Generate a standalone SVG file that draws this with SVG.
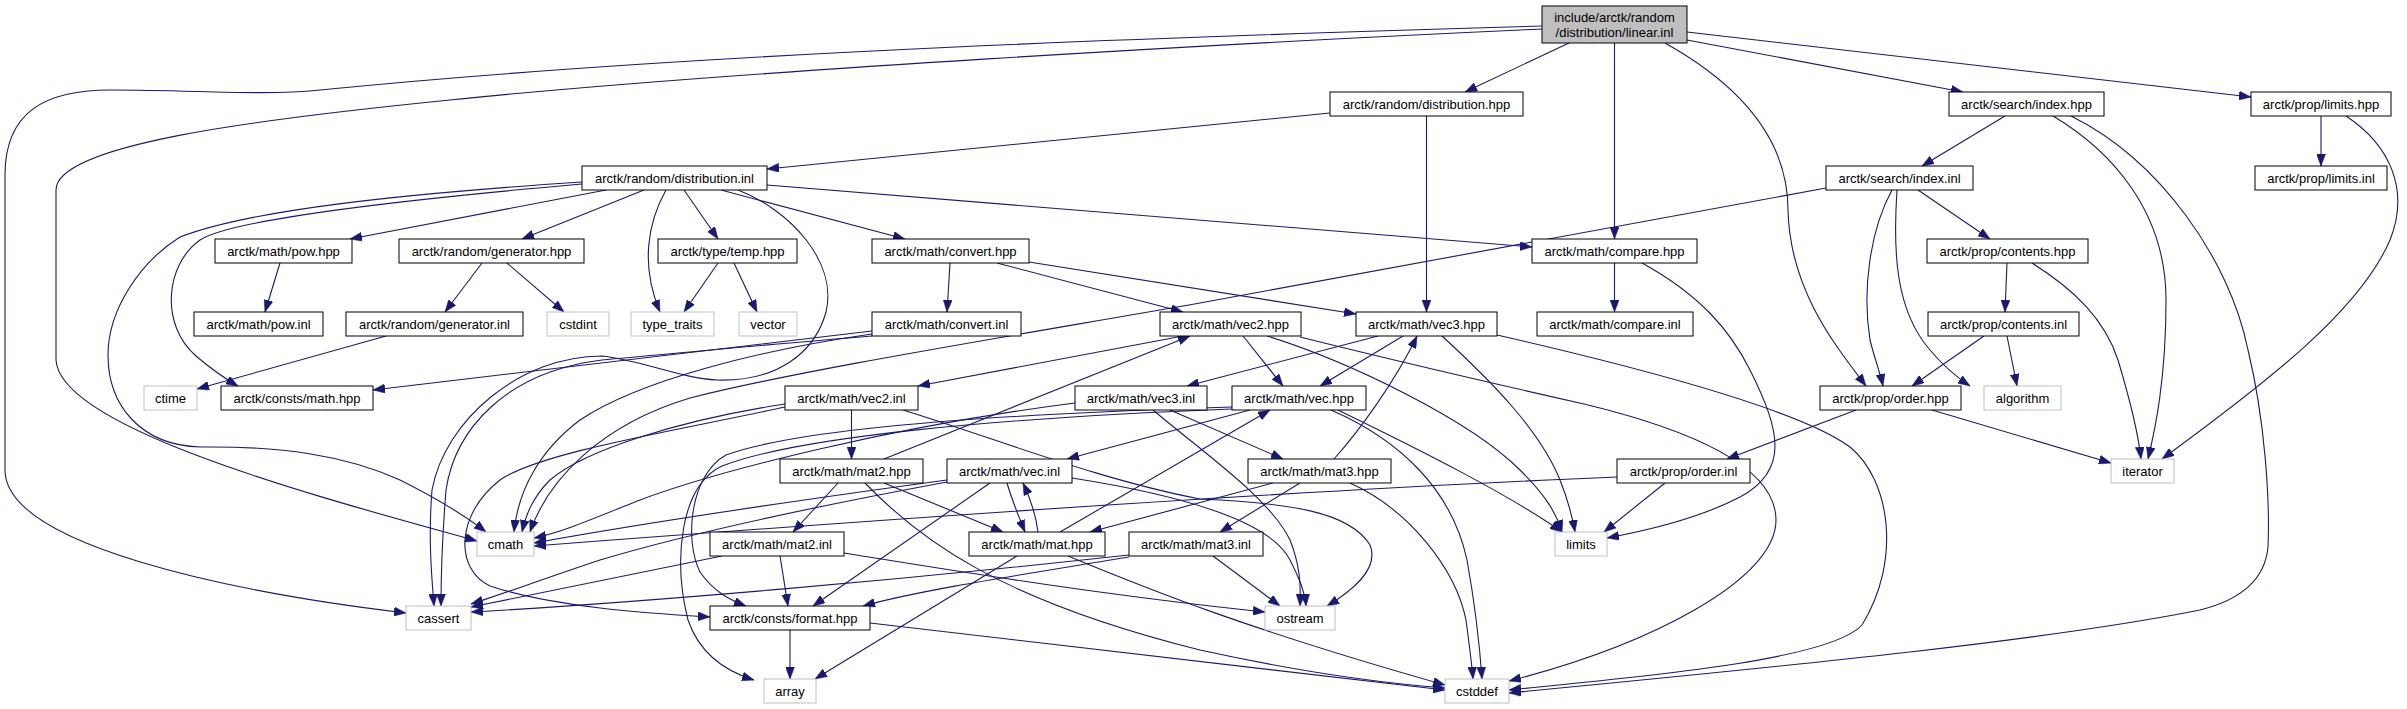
<svg xmlns="http://www.w3.org/2000/svg" width="2407" height="709" viewBox="0 0 2407 709">
<style>
.e{fill:none;stroke:#191970;stroke-width:1.1;marker-end:url(#ah)}
.n rect{fill:#fff;stroke:#000;stroke-width:1}
.x rect{fill:#fff;stroke:#bfbfbf;stroke-width:1}
.r rect{fill:#bfbfbf;stroke:#000;stroke-width:1}
text{font-family:"Liberation Sans",Arial,sans-serif;font-size:13px;fill:#000;text-anchor:middle}
</style>
<defs>
<marker id="ah" markerUnits="userSpaceOnUse" markerWidth="12" markerHeight="9" refX="12" refY="4.5" orient="auto">
<path d="M0,0 L12,4.5 L0,9 z" fill="#191970" stroke="#191970" stroke-width="0.5"/>
</marker>
</defs>
<rect width="2407" height="709" fill="#fff"/>
<g id="connectors">
<path class="e" d="M1542,26 C1200,36 700,52 320,90 C260,96 200,90 110,90 C45,90 5,112 5,175 L5,470 C5,545 230,592 406,613"/>
<path class="e" d="M1542,29 C1250,42 720,72 450,100 C250,120 56,145 56,190 L56,360 C60,430 330,500 477,541"/>
<path class="e" d="M1569,43 L1465,92"/>
<path class="e" d="M1614.5,43 L1614.5,239"/>
<path class="e" d="M1665,43 C1740,85 1788,140 1788,210 C1790,290 1835,345 1866,386"/>
<path class="e" d="M1687,40 L1963,92"/>
<path class="e" d="M1687,32 L2251,97"/>
<path class="e" d="M1330,113 L767,169"/>
<path class="e" d="M1426.5,116 L1426.5,312"/>
<path class="e" d="M606,190 L350,239"/>
<path class="e" d="M644,190 L522,239"/>
<path class="e" d="M666,190 C648,222 640,265 660,312"/>
<path class="e" d="M684,190 L718,239"/>
<path class="e" d="M721,190 L905,239"/>
<path class="e" d="M767,185 L1532,247"/>
<path class="e" d="M582,184 C400,200 230,220 200,240 C165,265 160,325 196,356 C210,368 224,378 238,386"/>
<path class="e" d="M582,182 C400,194 250,210 180,237 C140,262 108,310 108,355 C108,405 140,445 200,447 C280,446 345,455 400,480 C440,500 468,518 486,532"/>
<path class="e" d="M738,190 C790,210 838,262 826,312 C815,352 778,382 717,380 C680,378 640,360 602,356 C520,356 445,420 432,490 C428,540 432,580 434,606"/>
<path class="e" d="M280,263 L265,312"/>
<path class="e" d="M482,263 L445,312"/>
<path class="e" d="M507,263 L564,312"/>
<path class="e" d="M386,336 L197,389"/>
<path class="e" d="M718,263 L684,312"/>
<path class="e" d="M734,263 L757,312"/>
<path class="e" d="M950,263 L947,312"/>
<path class="e" d="M997,263 L1183,312"/>
<path class="e" d="M1029,262 L1356,314"/>
<path class="e" d="M872,331 L373,390"/>
<path class="e" d="M872,334 C760,350 640,380 580,420 C540,450 518,490 514,532"/>
<path class="e" d="M872,336 C760,345 660,355 602,360 C505,372 455,430 446,490 C442,540 441,580 441,606"/>
<path class="e" d="M1614.5,263 L1614.5,312"/>
<path class="e" d="M1642,263 C1700,295 1730,330 1750,370 C1780,430 1790,470 1740,497 C1700,518 1650,530 1607,538"/>
<path class="e" d="M1183,336 L918,386"/>
<path class="e" d="M1243,336 L1283,386"/>
<path class="e" d="M1267,336 C1350,362 1470,420 1520,470 C1545,495 1556,512 1562,532"/>
<path class="e" d="M1300,337 C1400,362 1500,385 1584,404 C1700,432 1776,470 1776,520 C1776,580 1650,645 1509,681"/>
<path class="e" d="M1378,336 L1187,386"/>
<path class="e" d="M1403,336 L1320,386"/>
<path class="e" d="M1442,336 C1490,380 1540,430 1560,480 C1568,500 1572,515 1575,532"/>
<path class="e" d="M1497,335 C1650,370 1800,410 1850,447 C1890,480 1902,560 1862,625 C1830,660 1650,676 1509,690"/>
<path class="e" d="M851.5,410 L851.5,459"/>
<path class="e" d="M785,404 C680,420 585,450 550,480 C532,498 526,515 522,532"/>
<path class="e" d="M785,407 C680,430 540,452 500,480 C455,515 455,570 490,586 C550,606 640,613 710,617"/>
<path class="e" d="M903,410 C1000,440 1100,480 1200,499 C1290,503 1350,512 1370,545 C1380,570 1350,592 1327,606"/>
<path class="e" d="M1170,410 L1283,459"/>
<path class="e" d="M1075,403 C900,425 720,470 640,500 C590,520 560,533 534,538"/>
<path class="e" d="M1153,410 C1200,450 1270,498 1290,540 C1300,565 1301,585 1300,606"/>
<path class="e" d="M1250,410 L1067,459"/>
<path class="e" d="M1232,409 C1000,418 800,436 722,466 C680,486 673,560 688,620 C700,655 728,672 754,680"/>
<path class="e" d="M1232,407 C1000,414 800,428 726,455 C690,475 684,540 700,572 C714,592 730,600 746,606"/>
<path class="e" d="M1338,410 C1420,450 1510,495 1562,532"/>
<path class="e" d="M1331,410 C1400,440 1452,490 1467,560 C1476,610 1480,650 1482,679"/>
<path class="e" d="M1007,483 C1012,500 1018,515 1025,532"/>
<path class="e" d="M947,480 C800,500 650,522 534,543"/>
<path class="e" d="M947,482 C850,500 700,530 600,560 C540,580 500,595 471,604"/>
<path class="e" d="M990,483 L813,606"/>
<path class="e" d="M1072,478 C1180,495 1270,520 1290,560 C1300,580 1305,592 1306,606"/>
<path class="e" d="M884,459 L1190,336"/>
<path class="e" d="M838,483 L793,532"/>
<path class="e" d="M884,483 L1003,532"/>
<path class="e" d="M865,483 C920,540 1000,600 1200,650 C1300,672 1380,683 1445,688"/>
<path class="e" d="M1334,459 C1360,430 1396,380 1417,336"/>
<path class="e" d="M1300,483 L1220,532"/>
<path class="e" d="M1273,483 L1090,532"/>
<path class="e" d="M1350,483 C1410,510 1456,570 1466,620 C1470,650 1472,665 1473,679"/>
<path class="e" d="M1060,532 L1270,410"/>
<path class="e" d="M1038,532 C1036,515 1031,500 1023,483"/>
<path class="e" d="M1017,556 L815,679"/>
<path class="e" d="M1068,556 C1150,590 1250,630 1445,685"/>
<path class="e" d="M722,556 L471,607"/>
<path class="e" d="M780,556 L788,606"/>
<path class="e" d="M844,553 C950,570 1100,595 1265,612"/>
<path class="e" d="M1129,555 C900,580 650,602 471,612"/>
<path class="e" d="M1129,557 C1020,575 920,590 863,606"/>
<path class="e" d="M1213,556 L1280,606"/>
<path class="e" d="M790,630 L790,679"/>
<path class="e" d="M870,623 L1445,690"/>
<path class="e" d="M2005,116 L1922,166"/>
<path class="e" d="M2053,116 C2110,150 2166,210 2166,300 C2166,380 2155,430 2148,459"/>
<path class="e" d="M2071,116 C2160,160 2230,260 2248,350 C2265,420 2270,500 2268,547 C2265,580 2240,600 2200,610 C2050,640 1800,665 1509,693"/>
<path class="e" d="M1918,190 L1990,239"/>
<path class="e" d="M1892,190 C1870,230 1862,290 1870,340 C1875,360 1880,372 1883,386"/>
<path class="e" d="M1897,190 C1893,250 1895,310 1930,350 C1945,368 1958,378 1970,386"/>
<path class="e" d="M1826,188 L1200,303 C1000,338 800,370 690,398 C600,425 548,480 530,532"/>
<path class="e" d="M2007,263 L2005,312"/>
<path class="e" d="M2032,263 C2075,290 2105,320 2118,360 C2130,400 2138,430 2141,459"/>
<path class="e" d="M1984,336 L1912,386"/>
<path class="e" d="M2007,336 L2017,386"/>
<path class="e" d="M1856,410 L1727,459"/>
<path class="e" d="M1932,410 L2111,463"/>
<path class="e" d="M1665,483 L1604,532"/>
<path class="e" d="M1617,477 C1300,490 900,518 534,546"/>
<path class="e" d="M2321,116 L2321,166"/>
<path class="e" d="M2346,116 C2390,145 2410,190 2390,240 C2360,310 2270,380 2162,459"/>
</g>
<g id="root" class="r"><rect x="1542" y="6" width="145" height="37"/><text x="1614.5" y="22">include/arctk/random</text><text x="1614.5" y="37">/distribution/linear.inl</text></g>
<g id="n_dhpp" class="n"><rect x="1330" y="92" width="193" height="24"/><text x="1426.5" y="109">arctk/random/distribution.hpp</text></g>
<g id="n_sihpp" class="n"><rect x="1949" y="92" width="155" height="24"/><text x="2026.5" y="109">arctk/search/index.hpp</text></g>
<g id="n_plhpp" class="n"><rect x="2251" y="92" width="140" height="24"/><text x="2321" y="109">arctk/prop/limits.hpp</text></g>
<g id="n_dinl" class="n"><rect x="582" y="166" width="185" height="24"/><text x="674.5" y="183">arctk/random/distribution.inl</text></g>
<g id="n_siinl" class="n"><rect x="1826" y="166" width="147" height="24"/><text x="1899.5" y="183">arctk/search/index.inl</text></g>
<g id="n_plinl" class="n"><rect x="2255" y="166" width="132" height="24"/><text x="2321" y="183">arctk/prop/limits.inl</text></g>
<g id="n_powhpp" class="n"><rect x="215" y="239" width="137" height="24"/><text x="283.5" y="256">arctk/math/pow.hpp</text></g>
<g id="n_genhpp" class="n"><rect x="399" y="239" width="185" height="24"/><text x="491.5" y="256">arctk/random/generator.hpp</text></g>
<g id="n_temphpp" class="n"><rect x="658" y="239" width="139" height="24"/><text x="727.5" y="256">arctk/type/temp.hpp</text></g>
<g id="n_convhpp" class="n"><rect x="872" y="239" width="157" height="24"/><text x="950.5" y="256">arctk/math/convert.hpp</text></g>
<g id="n_cmphpp" class="n"><rect x="1532" y="239" width="165" height="24"/><text x="1614.5" y="256">arctk/math/compare.hpp</text></g>
<g id="n_conthpp" class="n"><rect x="1927" y="239" width="161" height="24"/><text x="2007.5" y="256">arctk/prop/contents.hpp</text></g>
<g id="n_powinl" class="n"><rect x="194" y="312" width="129" height="24"/><text x="258.5" y="329">arctk/math/pow.inl</text></g>
<g id="n_geninl" class="n"><rect x="346" y="312" width="177" height="24"/><text x="434.5" y="329">arctk/random/generator.inl</text></g>
<g id="n_cstdint" class="x"><rect x="547" y="312" width="62" height="24"/><text x="578" y="329">cstdint</text></g>
<g id="n_typetraits" class="x"><rect x="631" y="312" width="83" height="24"/><text x="672.5" y="329">type_traits</text></g>
<g id="n_vector" class="x"><rect x="739" y="312" width="58" height="24"/><text x="768" y="329">vector</text></g>
<g id="n_convinl" class="n"><rect x="872" y="312" width="149" height="24"/><text x="946.5" y="329">arctk/math/convert.inl</text></g>
<g id="n_vec2hpp" class="n"><rect x="1160" y="312" width="141" height="24"/><text x="1230.5" y="329">arctk/math/vec2.hpp</text></g>
<g id="n_vec3hpp" class="n"><rect x="1356" y="312" width="141" height="24"/><text x="1426.5" y="329">arctk/math/vec3.hpp</text></g>
<g id="n_cmpinl" class="n"><rect x="1537" y="312" width="156" height="24"/><text x="1615" y="329">arctk/math/compare.inl</text></g>
<g id="n_continl" class="n"><rect x="1928" y="312" width="151" height="24"/><text x="2003.5" y="329">arctk/prop/contents.inl</text></g>
<g id="n_ctime" class="x"><rect x="144" y="386" width="53" height="24"/><text x="170.5" y="403">ctime</text></g>
<g id="n_constsmath" class="n"><rect x="221" y="386" width="152" height="24"/><text x="297" y="403">arctk/consts/math.hpp</text></g>
<g id="n_vec2inl" class="n"><rect x="785" y="386" width="133" height="24"/><text x="851.5" y="403">arctk/math/vec2.inl</text></g>
<g id="n_vec3inl" class="n"><rect x="1075" y="386" width="132" height="24"/><text x="1141" y="403">arctk/math/vec3.inl</text></g>
<g id="n_vechpp" class="n"><rect x="1232" y="386" width="134" height="24"/><text x="1299" y="403">arctk/math/vec.hpp</text></g>
<g id="n_orderhpp" class="n"><rect x="1820" y="386" width="141" height="24"/><text x="1890.5" y="403">arctk/prop/order.hpp</text></g>
<g id="n_algorithm" class="x"><rect x="1984" y="386" width="77" height="24"/><text x="2022.5" y="403">algorithm</text></g>
<g id="n_mat2hpp" class="n"><rect x="780" y="459" width="143" height="24"/><text x="851.5" y="476">arctk/math/mat2.hpp</text></g>
<g id="n_vecinl" class="n"><rect x="947" y="459" width="125" height="24"/><text x="1009.5" y="476">arctk/math/vec.inl</text></g>
<g id="n_mat3hpp" class="n"><rect x="1248" y="459" width="143" height="24"/><text x="1319.5" y="476">arctk/math/mat3.hpp</text></g>
<g id="n_orderinl" class="n"><rect x="1617" y="459" width="133" height="24"/><text x="1683.5" y="476">arctk/prop/order.inl</text></g>
<g id="n_iterator" class="x"><rect x="2111" y="459" width="63" height="24"/><text x="2142.5" y="476">iterator</text></g>
<g id="n_cmath" class="x"><rect x="477" y="532" width="57" height="24"/><text x="505.5" y="549">cmath</text></g>
<g id="n_mat2inl" class="n"><rect x="710" y="532" width="134" height="24"/><text x="777" y="549">arctk/math/mat2.inl</text></g>
<g id="n_mathpp" class="n"><rect x="969" y="532" width="136" height="24"/><text x="1037" y="549">arctk/math/mat.hpp</text></g>
<g id="n_mat3inl" class="n"><rect x="1129" y="532" width="134" height="24"/><text x="1196" y="549">arctk/math/mat3.inl</text></g>
<g id="n_limits" class="x"><rect x="1555" y="532" width="52" height="24"/><text x="1581" y="549">limits</text></g>
<g id="n_cassert" class="x"><rect x="406" y="606" width="65" height="24"/><text x="438.5" y="623">cassert</text></g>
<g id="n_format" class="n"><rect x="710" y="606" width="160" height="24"/><text x="790" y="623">arctk/consts/format.hpp</text></g>
<g id="n_ostream" class="x"><rect x="1265" y="606" width="70" height="24"/><text x="1300" y="623">ostream</text></g>
<g id="n_array" class="x"><rect x="764" y="679" width="52" height="24"/><text x="790" y="696">array</text></g>
<g id="n_cstddef" class="x"><rect x="1445" y="679" width="64" height="24"/><text x="1477" y="696">cstddef</text></g>
</svg>
